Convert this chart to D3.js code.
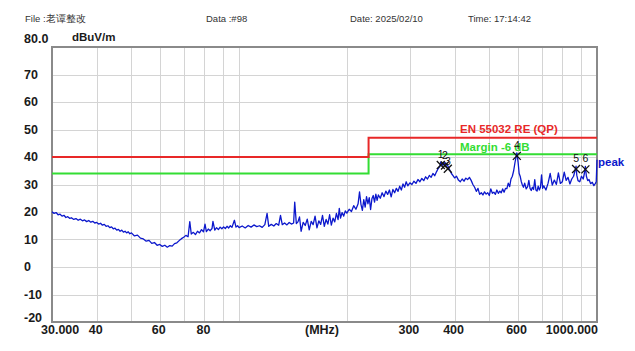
<!DOCTYPE html>
<html>
<head>
<meta charset="utf-8">
<script src="https://cdn.jsdelivr.net/npm/d3@7"></script>
<style>
  html, body { margin: 0; padding: 0; background: #fff; }
  svg text { font-family: "Liberation Sans", Arial, sans-serif; }
</style>
</head>
<body>
<div id="chart"></div>
<script>
// header fields
const headerItems = [
  { text: "File :老谭整改", x: 25 },
  { text: "Data :#98", x: 206 },
  { text: "Date: 2025/02/10", x: 350 },
  { text: "Time: 17:14:42", x: 468 }
];

const yTicks = [-20, -10, 0, 10, 20, 30, 40, 50, 60, 70];
const xTickLabels = [
  { f: 40, label: "40" }, { f: 60, label: "60" }, { f: 80, label: "80" },
  { f: 300, label: "300" }, { f: 400, label: "400" }, { f: 600, label: "600" }
];
const xGrid = [40, 50, 60, 70, 80, 90, 100, 200, 300, 400, 500, 600, 700, 800, 900];

// EN 55032 RE (QP) limit and the -6 dB margin line
const limitQP = [[30, 40], [230, 40], [230, 47], [1000, 47]];
const limitMargin = [[30, 34], [230, 34], [230, 41], [1000, 41]];

// peak trace [MHz, dBuV/m]
const peakTrace = [
  [30.0,20.1],[30.4,19.5],[30.8,19.8],[31.2,19.0],[31.6,19.2],[32.0,18.5],[32.4,18.8],[32.8,18.0],
  [33.2,18.3],[33.6,17.7],[34.0,17.9],[34.5,17.3],[35.0,17.6],[35.5,17.0],[36.0,17.4],[36.5,16.8],
  [37.0,17.1],[37.5,16.5],[38.0,16.9],[38.5,16.3],[39.0,16.6],[39.5,16.0],[40.0,16.2],[40.5,15.6],
  [41.0,15.9],[41.5,15.2],[42.0,15.5],[42.5,14.8],[43.0,15.0],[43.5,14.3],[44.0,14.6],[44.5,13.9],
  [45.0,14.1],[45.5,13.4],[46.0,13.7],[46.5,13.0],[47.0,13.4],[47.5,12.7],[48.0,13.0],[48.5,12.4],
  [49.0,12.8],[49.5,12.1],[50.0,12.4],[51.0,11.3],[52.0,11.6],[53.0,10.5],[54.0,10.2],[55.0,9.4],
  [56.0,9.7],[57.0,8.6],[58.0,8.9],[59.0,7.9],[60.0,8.2],[61.0,7.5],[62.0,7.9],[63.0,7.2],
  [64.0,7.8],[65.0,7.6],[66.0,8.5],[67.0,8.8],[68.0,9.6],[69.0,10.3],[70.0,10.8],[71.0,11.5],
  [72.0,11.0],[72.8,16.5],[73.5,12.0],[74.5,12.6],[75.5,11.8],[76.5,13.0],[77.5,12.4],[78.5,13.6],
  [79.5,12.8],[80.3,15.6],[81.0,12.9],[82.0,13.8],[83.0,13.2],[84.0,14.0],[84.5,16.6],[85.5,13.4],
  [86.5,14.3],[87.5,13.6],[88.5,14.5],[89.5,13.9],[90.5,14.6],[91.5,14.0],[92.5,14.8],[93.5,14.2],
  [94.5,15.0],[95.5,14.4],[97.0,17.0],[98.0,14.5],[99.0,15.0],[100.0,14.3],
  [102,14.9],[104,14.2],[106,15.1],[108,14.5],[110,15.3],[112,14.7],[114,15.0],[116,14.4],
  [118,15.4],[119.7,19.5],[121,14.8],[123,15.5],[125,14.9],[127,15.8],[129,15.2],[130.5,18.8],
  [132,15.4],[134,16.0],[136,15.3],[138,16.2],[140,15.6],[142,16.0],[143,23.6],[144.5,15.8],
  [146,16.4],[147.5,18.2],[149,13.0],[151,16.2],[153,15.1],[155,17.4],[157,13.5],[159,16.6],
  [161,15.4],[163,18.5],[165,14.2],[167,16.8],[169,15.5],[171,18.8],[173,14.8],[175,17.3],
  [177,15.6],[179,19.0],[181,15.2],[183,17.8],[185,16.4],[187,19.5],[189,17.2],[190.5,21.3],
  [192,17.8],[194,19.8],[196,18.5],[198,20.4],[200,19.6],
  [203,21.0],[206,20.2],[209,22.3],[212,21.0],[215,23.0],[217,27.3],[219,22.8],[221,20.6],
  [223,24.5],[225,21.8],[227,25.6],[229,23.0],[231,25.2],[233,20.9],[235,24.8],[237,26.0],
  [239,23.6],[241,26.5],[243,24.2],[245,26.2],[248,25.0],[251,27.0],[254,25.6],[257,27.6],
  [260,26.4],[263,28.0],[266,25.5],[269,28.2],[272,27.0],[275,28.6],[278,27.5],[281,29.4],
  [284,28.0],[287,30.2],[290,29.0],[293,31.0],[296,29.5],[300,30.6],
  [304,30.0],[308,31.2],[312,30.4],[316,31.8],[320,31.0],[324,32.2],[328,31.4],[332,32.8],
  [336,32.0],[340,33.3],[344,32.6],[348,34.0],[352,33.2],[356,34.6],[360,35.8],[364,36.6],
  [366,38.2],[370,37.0],[376,38.0],[380,37.0],[383,36.8],[388,35.2],[392,34.0],[396,33.2],
  [400,32.4],[405,33.0],[410,31.6],[415,31.0],[420,32.0],[425,31.2],[430,32.3],[435,31.8],
  [440,32.6],[445,31.5],[450,30.0],
  [455,29.0],[460,27.5],[465,28.6],[470,26.4],[475,27.0],[480,26.2],[485,27.3],[490,26.5],
  [495,27.0],[500,26.0],[505,28.4],[510,26.8],[515,27.2],[520,26.4],[525,28.0],[530,26.8],
  [535,27.6],[540,27.0],[545,28.4],[550,27.2],[555,28.6],[560,28.5],[565,30.5],[570,29.2],
  [575,32.0],[580,33.0],[585,35.0],[590,38.0],[594,40.0],[597,41.5],[602,38.0],[606,34.0],
  [610,33.0],[614,31.2],[618,30.0],[623,29.0],[628,30.5],[634,28.4],[640,29.2],[645,31.5],
  [650,28.6],[655,27.8],[660,29.0],[665,28.2],[670,31.8],[675,28.0],[680,27.6],[685,29.4],
  [690,28.0],[695,29.0],[700,33.5],[705,28.6],[710,29.5],[720,28.0],[730,30.5],[740,34.0],
  [750,29.8],[760,31.6],[770,30.0],[780,34.2],[790,30.4],[800,31.0],[810,34.5],[820,31.5],
  [830,32.6],[840,30.2],[850,32.0],[860,33.0],[868,35.0],[874,36.7],[878,33.4],[885,31.4],
  [895,31.0],[905,33.0],[915,32.0],[922,34.0],[928,36.6],[934,33.0],[942,31.4],[950,31.8],
  [960,30.3],[970,30.8],[980,29.6],[990,30.4],[995,31.0],[1000,39.0]
];

// markers: number, MHz, dBuV/m
const markerIds = ["1", "2", "3", "4", "5", "6"];
const markerFreq = [366, 376, 383, 597, 874, 928];
const markerLevel = [38.2, 38.0, 36.8, 41.5, 36.7, 36.6];

const W = 635, H = 351;
const plot = { left: 52, top: 47, right: 597, bottom: 322 };

const svg = d3.select("#chart").append("svg")
  .attr("width", W).attr("height", H)
  .style("background", "#fff");

const x = d3.scaleLog().domain([30, 1000]).range([plot.left, plot.right]);
const y = d3.scaleLinear().domain([-20, 80]).range([plot.bottom, plot.top]);

// header
svg.append("g").selectAll("text").data(headerItems).join("text")
  .attr("x", d => d.x).attr("y", 22)
  .attr("font-size", 9.5).attr("fill", "#333")
  .text(d => d.text);

// grid
const grid = svg.append("g").attr("stroke", "#d4d4d4").attr("stroke-width", 1);
grid.selectAll("line.v").data(xGrid).join("line").attr("class", "v")
  .attr("x1", d => Math.round(x(d)) + 0.5).attr("x2", d => Math.round(x(d)) + 0.5)
  .attr("y1", plot.top).attr("y2", plot.bottom);
grid.selectAll("line.h").data(yTicks.filter(d => d > -20)).join("line").attr("class", "h")
  .attr("x1", plot.left).attr("x2", plot.right)
  .attr("y1", d => Math.round(y(d)) + 0.5).attr("y2", d => Math.round(y(d)) + 0.5);

// frame
svg.append("rect")
  .attr("x", plot.left).attr("y", plot.top)
  .attr("width", plot.right - plot.left).attr("height", plot.bottom - plot.top)
  .attr("fill", "none").attr("stroke", "#8a8a8a").attr("stroke-width", 2);

// y labels
const axisFont = { size: 12.5, weight: "bold", fill: "#1a1a1a" };
svg.append("g").selectAll("text").data(yTicks).join("text")
  .attr("x", 24)
  .attr("y", d => d === -20 ? y(d) - 4 : y(d))
  .attr("dy", "0.35em")
  .attr("font-size", axisFont.size).attr("font-weight", axisFont.weight).attr("fill", axisFont.fill)
  .text(d => d);
svg.append("text").attr("x", 24).attr("y", y(80) - 8).attr("dy", "0.35em")
  .attr("font-size", axisFont.size).attr("font-weight", axisFont.weight).attr("fill", axisFont.fill)
  .text("80.0");
svg.append("text").attr("x", 72).attr("y", 37).attr("dy", "0.35em")
  .attr("font-size", 11.5).attr("font-weight", "bold").attr("fill", "#1a1a1a")
  .text("dBuV/m");

// x labels
const xLab = svg.append("g")
  .attr("font-size", axisFont.size).attr("font-weight", axisFont.weight).attr("fill", axisFont.fill);
xLab.selectAll("text.t").data(xTickLabels).join("text").attr("class", "t")
  .attr("x", d => x(d.f) - 1).attr("y", 334)
  .attr("text-anchor", "middle").text(d => d.label);
xLab.append("text").attr("x", 41).attr("y", 334).text("30.000");
xLab.append("text").attr("x", 598).attr("y", 334).attr("text-anchor", "end").text("1000.000");
xLab.append("text").attr("x", 322).attr("y", 334).attr("text-anchor", "middle").text("(MHz)");

// limit lines
const line = d3.line().x(d => x(d[0])).y(d => y(d[1]));
svg.append("path").datum(limitMargin).attr("d", line)
  .attr("fill", "none").attr("stroke", "#33dd33").attr("stroke-width", 2);
svg.append("path").datum(limitQP).attr("d", line)
  .attr("fill", "none").attr("stroke", "#e82828").attr("stroke-width", 2);

svg.append("text").attr("x", 460).attr("y", 129).attr("dy", "0.35em")
  .attr("font-size", 11.5).attr("font-weight", "bold").attr("fill", "#e82828")
  .text("EN 55032 RE (QP)");
svg.append("text").attr("x", 460).attr("y", 147).attr("dy", "0.35em")
  .attr("font-size", 11.5).attr("font-weight", "bold").attr("fill", "#33dd33")
  .text("Margin -6 dB");

// trace
svg.append("path").datum(peakTrace).attr("d", line)
  .attr("fill", "none").attr("stroke", "#0c18cc").attr("stroke-width", 1.3)
  .attr("stroke-linejoin", "round");
svg.append("text").attr("x", 598).attr("y", 162).attr("dy", "0.35em")
  .attr("font-size", 11.5).attr("font-weight", "bold").attr("fill", "#0c18cc")
  .text("peak");

// markers
const markers = markerIds.map((id, i) => ({ id, f: markerFreq[i], v: markerLevel[i] }));
const mk = svg.append("g").selectAll("g").data(markers).join("g")
  .attr("transform", d => `translate(${x(d.f)},${y(d.v) + 3})`);
mk.append("path").attr("d", "M-4,-4L4,4M-4,4L4,-4")
  .attr("stroke", "#111").attr("stroke-width", 1.3).attr("fill", "none");
mk.append("text").attr("y", (d, i) => i === 2 ? -4 : -7)
  .attr("text-anchor", "middle")
  .attr("font-size", 10.5).attr("fill", "#111")
  .text(d => d.id);
</script>
</body>
</html>
